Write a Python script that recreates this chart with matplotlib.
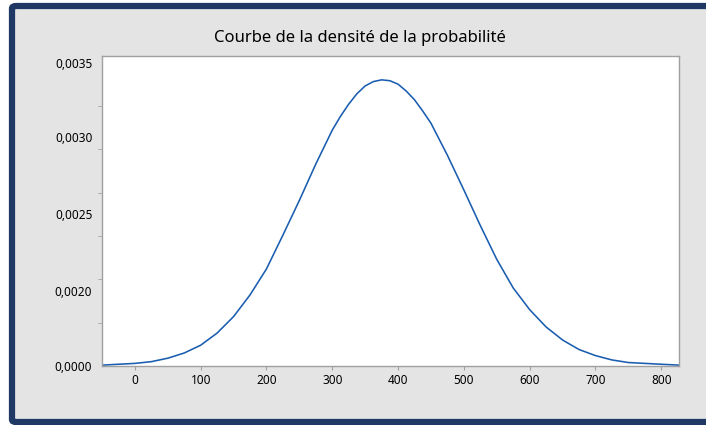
import matplotlib.pyplot as plt
from matplotlib.patches import FancyBboxPatch

plt.rcParams['font.family'] = ['Noto Sans', 'DejaVu Sans']

# courbe (x, densite)
x_vals = [-50, -25, 0, 25, 50, 75, 100, 125, 150, 175, 200, 225, 250, 275,
          300, 312.5, 325, 337.5, 350, 362.5, 375, 387.5, 400, 412.5, 425,
          437.5, 450, 475, 500, 525, 550, 575, 600, 625, 650, 675, 700, 725,
          750, 775, 800, 827]
densite = [0.00001, 0.00002, 0.00003, 0.00005, 0.00009, 0.00015, 0.00024,
           0.00038, 0.00057, 0.00082, 0.00112, 0.00151, 0.00191, 0.00233,
           0.00272, 0.00288, 0.00302, 0.00314, 0.00323, 0.00328, 0.00330,
           0.00329, 0.00325, 0.00317, 0.00307, 0.00294, 0.00280, 0.00243,
           0.00203, 0.00162, 0.00123, 0.00090, 0.00065, 0.00045, 0.00030,
           0.00019, 0.00012, 0.00007, 0.00004, 0.00003, 0.00002, 0.00001]

x_ticks = [0, 100, 200, 300, 400, 500, 600, 700, 800]
y_minor = [0, 0.0005, 0.0010, 0.0015, 0.0020, 0.0025, 0.0030, 0.0035]
# les etiquettes de l'axe y ne tombent pas sur les graduations dans l'original
y_label_pos = [0, 0.000864, 0.001751, 0.002638, 0.0035]
y_labels = ["0,0000", "0,0020", "0,0025", "0,0030", "0,0035"]

fig = plt.figure(figsize=(7.06, 4.25), dpi=100)
fig.patch.set_facecolor("white")

cadre = FancyBboxPatch((12 / 706, 3 / 425), 720 / 706, 416 / 425,
                       boxstyle="round,pad=0,rounding_size=0.006",
                       transform=fig.transFigure, facecolor="#E4E4E4",
                       edgecolor="#1F3864", linewidth=4.5, zorder=-5)
fig.patches.append(cadre)

ax = fig.add_axes([102 / 706, 59 / 425, 577 / 706, 310 / 425])
ax.set_zorder(2)
ax.set_facecolor("white")
ax.plot(x_vals, densite, color="#1A5DB0", linewidth=1.15)

ax.set_xlim(-50, 827)
ax.set_ylim(0, 0.003575)

ax.set_xticks(x_ticks)
ax.set_xticklabels([str(v) for v in x_ticks])
ax.set_yticks(y_label_pos)
ax.set_yticklabels(y_labels)
ax.set_yticks(y_minor, minor=True)

ax.tick_params(axis="x", length=3, color="#A0A0A0", labelsize=8.5, pad=3)
ax.tick_params(axis="y", which="major", length=0, labelsize=8.5, pad=7)
ax.tick_params(axis="y", which="minor", length=3, color="#A0A0A0")

for s in ax.spines.values():
    s.set_color("#A0A0A0")
    s.set_linewidth(1.0)

fig.text(360 / 706, 1 - 38 / 425, "Courbe de la densité de la probabilité",
         ha="center", va="center", fontsize=12)

fig.savefig("out.png", dpi=100, facecolor=fig.get_facecolor())
